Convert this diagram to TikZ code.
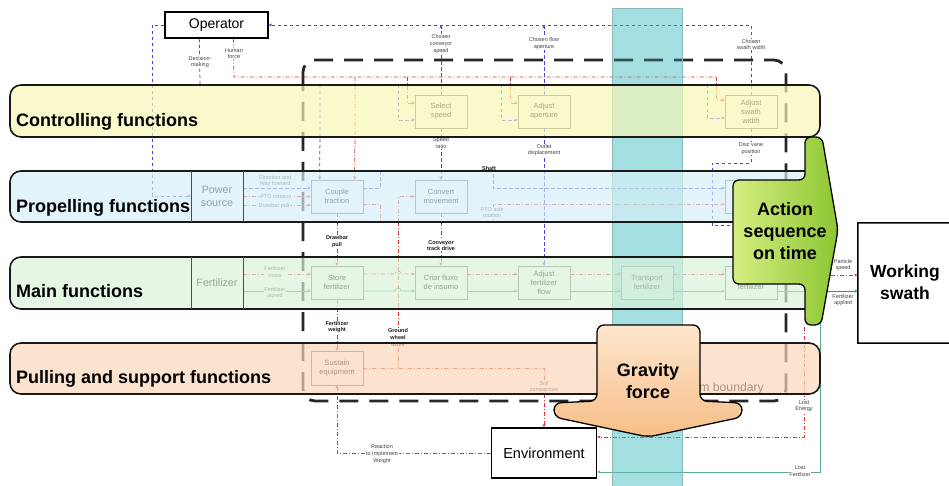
\documentclass[tikz,border=0pt]{standalone}
\usepackage{fontspec}
\setmainfont{Liberation Sans}
\usetikzlibrary{arrows.meta,calc}

\definecolor{flowblue}{RGB}{70,70,225}
\definecolor{flowred}{RGB}{225,50,50}
\definecolor{flowgreen}{RGB}{40,160,90}
\definecolor{lossteal}{RGB}{90,170,150}
\definecolor{ctrlfill}{RGB}{247,247,181}
\definecolor{propfill}{RGB}{213,239,247}
\definecolor{mainfill}{RGB}{217,242,217}
\definecolor{pullfill}{RGB}{250,215,186}
\definecolor{stripfill}{RGB}{110,205,208}
\definecolor{stripline}{RGB}{140,185,185}
\definecolor{actlight}{RGB}{215,238,130}
\definecolor{actdark}{RGB}{140,198,50}
\definecolor{gravlight}{RGB}{253,230,205}
\definecolor{gravdark}{RGB}{246,190,135}

\begin{document}
\begin{tikzpicture}[x=1pt,y=-1pt,
  fnbox/.style={draw=black!55, fill=white, text=black, font=\fontsize{7.5}{9}\selectfont,
    align=center, minimum width=52pt, minimum height=33pt, inner sep=1pt},
  bflow/.style={draw=flowblue, line width=0.75pt, dash pattern=on 3.5pt off 2.5pt},
  rflow/.style={draw=flowred, line width=0.75pt, dash pattern=on 4pt off 2pt on 1pt off 2pt},
  gflow/.style={draw=flowgreen, line width=0.7pt},
  tflow/.style={draw=lossteal, line width=0.7pt},
  arr/.style={-{Stealth[length=3.5pt,width=3pt]}},
  lbl/.style={font=\fontsize{5.5}{6.6}\selectfont, text=black!75, align=center, inner sep=0.6pt, fill=white},
  blbl/.style={lbl, font=\fontsize{5.5}{6.6}\selectfont\bfseries, text=black!90},
  bandfill/.style={rounded corners=11pt, fill opacity=0.68},
  bandline/.style={rounded corners=11pt, draw=black!90, line width=1.6pt},
  bandtitle/.style={anchor=base west, font=\fontsize{18}{20}\selectfont\bfseries, inner sep=0pt},
  bigbox/.style={draw=black, line width=1.3pt, inner sep=0pt},
  bigtext/.style={font=\fontsize{18}{22}\selectfont\bfseries, align=center, inner sep=0pt}
]
\fill[white] (0,0) rectangle (949,486);
\useasboundingbox (0,0) rectangle (949,486);

% ---------- time slice ----------
\fill[stripfill, fill opacity=0.5] (612,8) rectangle (682,486);

% ---------- system boundary ----------
\draw[black!85, line width=2.8pt, dash pattern=on 19pt off 11pt, rounded corners=12pt]
  (303,60) rectangle (786,401);
\node[anchor=base east, font=\fontsize{12.2}{14}\selectfont, inner sep=0pt] (sbl) at (764,391) {System boundary};

% ---------- external boxes ----------
\node[bigbox, minimum width=103pt, minimum height=26pt, font=\fontsize{14}{16}\selectfont] (op) at (216.5,25) {Operator};
\node[bigbox, minimum width=105pt, minimum height=50pt, font=\fontsize{14.5}{16}\selectfont] (env) at (544,453) {Environment};
% working swath runs on past the right edge: only three sides are drawn
\node[minimum width=100pt, minimum height=120pt, inner sep=0pt] (ws) at (908,283) {};
\draw[black, line width=1.5pt] (949,223) -- (ws.north west) -- (ws.south west) -- (949,343);
\node[font=\fontsize{17.5}{22}\selectfont\bfseries, align=center] (wst) at (905,282.5) {Working\\swath};

% ---------- function boxes ----------
\node[fnbox] (ss)  at (441,111.5) {Select\\speed};
\node[fnbox] (aa)  at (544,111.5) {Adjust\\aperture};
\node[fnbox] (asw) at (751,112)   {Adjust\\swath\\width};
\node[fnbox] (ct)  at (337,196.5) {Couple\\traction};
\node[fnbox] (cm)  at (441,196.5) {Convert\\movement};
\node[fnbox] (rx)  at (751,196.5) {};
\node[fnbox] (sf)  at (337,282.5) {Store\\fertilizer};
\node[fnbox] (cf)  at (441,282.5) {Criar fluxo\\de insumo};
\node[fnbox] (af)  at (544,282.5) {Adjust\\fertilizer\\flow};
\node[fnbox, fill opacity=0.6, text opacity=1] (tf)  at (647,282.5) {Transport\\fertilizer};
\node[fnbox] (df)  at (751,282.5) {Distribute\\fertilizer};
\node[fnbox, minimum height=34pt] (se) at (337,368) {Sustain\\equipment};

\node[font=\fontsize{10.7}{13}\selectfont, align=center] (ps) at (217,196) {Power\\source};
\node[font=\fontsize{10.7}{13}\selectfont] (fz) at (217,283) {Fertilizer};
\coordinate (psin) at (191,196);

% ---------- operator loops ----------
\draw[bflow,arr] (op.west) -- (152,25) -- (152,196) -- (psin);
\draw[bflow,arr] (asw.north) |- (op.east);
\draw[bflow,arr] (ss.north) -- (ss.north |- op.east);
\draw[bflow,arr] (aa.north) -- (aa.north |- op.east);
\node[lbl] at (441,44) {Chosen\\conveyor\\speed};
\node[lbl] at (544,43.5) {Chosen flow\\aperture};
\node[lbl] at (751,44.5) {Chosen\\swath width};

% decision-making
\draw[bflow] ($(op.south west)+(35,0)$) -- (200,85) -- (707,85);
\draw[bflow,arr] (320,85) -- ($(ct.north west)+(9,0)$);
\draw[bflow,arr] (398,85) |- ($(ss.west)+(0,8.5)$);
\draw[bflow,arr] (501,85) |- ($(aa.west)+(0,8.5)$);
\draw[bflow,arr] (707,85) |- ($(asw.west)+(0,6)$);
\node[lbl] at (200,62) {Decision-\\making};

% human force
\draw[rflow] ($(op.south west)+(69,0)$) -- (234,77) -- (716,77);
\draw[rflow,arr] (716,77) |- ($(asw.west)+(0,-12)$);
\draw[rflow,arr] (355,77) -- ($(ct.north west)+(44,0)$);
\draw[rflow,arr] (407,77) |- ($(ss.west)+(0,-8.5)$);
\draw[rflow,arr] (510,77) |- ($(aa.west)+(0,-8.5)$);
\node[lbl] at (234,53.5) {Human\\force};

% ---------- controlling to propelling / main ----------
\draw[bflow,arr] (ss.south) -- (cm.north);
\node[lbl] at (441,143) {Speed\\ratio};
\draw[bflow,arr] (aa.south) -- (af.north);
\node[lbl] at (544,150) {Outlet\\displacement};
\draw[bflow] (asw.south) -- (751,163) -- (712,163) -- (712,225) -- (745,225);
\node[lbl] at (751,148.5) {Disc vane\\position};

% ---------- propelling ----------
\draw[bflow,arr] (243,188) -- ($(ct.west)+(0,-8.5)$);
\draw[rflow,arr] (243,196.5) -- (ct.west);
\draw[rflow,arr] (243,205) -- ($(ct.west)+(0,8.5)$);
\node[lbl] at (275,181) {Direction and\\Way forward};
\node[lbl] at (276,196.5) {PTO rotation};
\node[lbl] at (274,206.5) {Drawbar pull};

\draw[bflow,arr] ($(ct.east)+(0,-8.5)$) -- (380,188) -- (380,171) -- (493,171) -- (493,188) -- ($(rx.west)+(0,-8.5)$);
\draw[rflow,arr] ($(ct.east)+(0,7.5)$) -- (380,204) -- (380,222) -- (493,222) -- (493,204) -- ($(rx.west)+(0,7.5)$);
\draw[rflow,arr] (398,222) |- (cm.west);
\node[lbl] at (492,212.5) {PTO axle\\rotation};

\draw[rflow,arr] (ct.south) -- (sf.north);
\node[blbl] at (337,241.5) {Drawbar\\pull};
\draw[rflow,arr] (cm.south) -- (cf.north);
\node[blbl] at (441,245.5) {Conveyor\\track drive};

% ---------- main ----------
\draw[rflow,arr] (243,274) -- ($(sf.west)+(0,-8.5)$);
\draw[gflow,arr] (243,291) -- ($(sf.west)+(0,8.5)$);
\node[lbl] at (275,272) {Fertilizer\\mass};
\node[lbl] at (275,292.5) {Fertilizer\\stored};

\draw[rflow,arr] ($(sf.east)+(0,-8.5)$) -- (395,274) .. controls (395,270) and (401,270) .. (401,274) -- ($(cf.west)+(0,-8.5)$);
\draw[gflow,arr] ($(sf.east)+(0,8.5)$) -- (395,291) .. controls (395,287) and (401,287) .. (401,291) -- ($(cf.west)+(0,8.5)$);
\draw[rflow,arr] ($(cf.east)+(0,-8.5)$) -- ($(af.west)+(0,-8.5)$);
\draw[gflow,arr] ($(cf.east)+(0,8.5)$) -- ($(af.west)+(0,8.5)$);
\draw[rflow,arr] ($(af.east)+(0,-8.5)$) -- ($(tf.west)+(0,-8.5)$);
\draw[gflow,arr] ($(af.east)+(0,8.5)$) -- ($(tf.west)+(0,8.5)$);
\draw[rflow,arr] ($(tf.east)+(0,-8.5)$) -- ($(df.west)+(0,-8.5)$);
\draw[gflow,arr] ($(tf.east)+(0,8.5)$) -- ($(df.west)+(0,8.5)$);
\draw[rflow,arr] ($(df.east)+(0,-7.5)$) -- ($(ws.west)+(0,-8)$);
\draw[gflow,arr] ($(df.east)+(0,8.5)$) -- ($(ws.west)+(0,8)$);
\node[lbl] at (843,265) {Particle\\speed};
\node[lbl] at (843,300) {Fertilizer\\applied};

% ---------- pulling and support ----------
\draw[rflow,arr] (sf.south) -- (se.north);
\node[blbl] at (337,327) {Fertilizer\\weight};
\draw[rflow] (398,222) -- (398,368);
\node[blbl] at (398,337.5) {Ground\\wheel\\drive};
\draw[rflow,arr] (se.east) -- (544,368) -- (env.north);
\node[lbl] at (544,387) {Soil\\compaction};
\draw[rflow,arr] (env.west) -- (337,453) -- (se.south);
\node[lbl] at (382,454) {Reaction\\to Implement\\Weight};

% losses to the environment
\draw[rflow,arr] (804,327) -- (804,437) -- ($(env.east)+(0,-16)$);
\node[lbl] at (804,406) {Lost\\Energy};
\draw[tflow,arr] (820,300) -- (820,472) -- ($(env.east)+(0,19)$);
\node[lbl] at (800,471) {Lost\\Fertilizer};

% flows crossing the time slice are seen through it
\fill[stripfill, fill opacity=0.25] (612,8) rectangle (682,486);
\draw[stripline, line width=0.6pt] (612,8) rectangle (682,486);

% ---------- function bands (translucent) ----------
\fill[ctrlfill, bandfill] (10,85) rectangle (820,137);
\fill[propfill, bandfill] (10,171) rectangle (820,222);
\fill[mainfill, bandfill] (10,257) rectangle (820,309);
\fill[pullfill, bandfill] (10,343) rectangle (820,394);

\draw[bandline] (10,85) rectangle (820,137);
\draw[bandline] (10,171) rectangle (820,222);
\draw[bandline] (10,257) rectangle (820,309);
\draw[bandline] (10,343) rectangle (820,394);
\draw[black!70, line width=0.9pt] (191,171) -- (191,222) (243,171) -- (243,222)
  (191,257) -- (191,309) (243,257) -- (243,309);

\node[bandtitle] (tctl) at (16,127) {Controlling functions};
\node[bandtitle] (tprp) at (16,212) {Propelling functions};
\node[bandtitle] (tmai) at (16,297) {Main functions};
\node[bandtitle] (tpul) at (16,383) {Pulling and support functions};

\node[blbl, fill=none] at (489,168.5) {Shaft};

% ---------- action sequence arrow ----------
\shadedraw[left color=actlight, right color=actdark, draw=black, line width=1.3pt, rounded corners=6pt]
  (805,137) -- (822,137) -- (838,230) -- (821,325) -- (805,325) -- (805,284)
  -- (733,284) -- (733,180) -- (805,180) -- cycle;
\node[bigtext] (act) at (785,231) {Action\\sequence\\on time};

% ---------- gravity arrow ----------
\shadedraw[top color=gravlight, bottom color=gravdark, draw=black, line width=1.3pt, rounded corners=7pt]
  (597,325) -- (700,325) -- (700,401) -- (742,403) -- (742,417) -- (648,437)
  -- (554,417) -- (554,403) -- (597,401) -- cycle;
\node[bigtext] (grav) at (648,381) {Gravity\\force};
\end{tikzpicture}
\end{document}
